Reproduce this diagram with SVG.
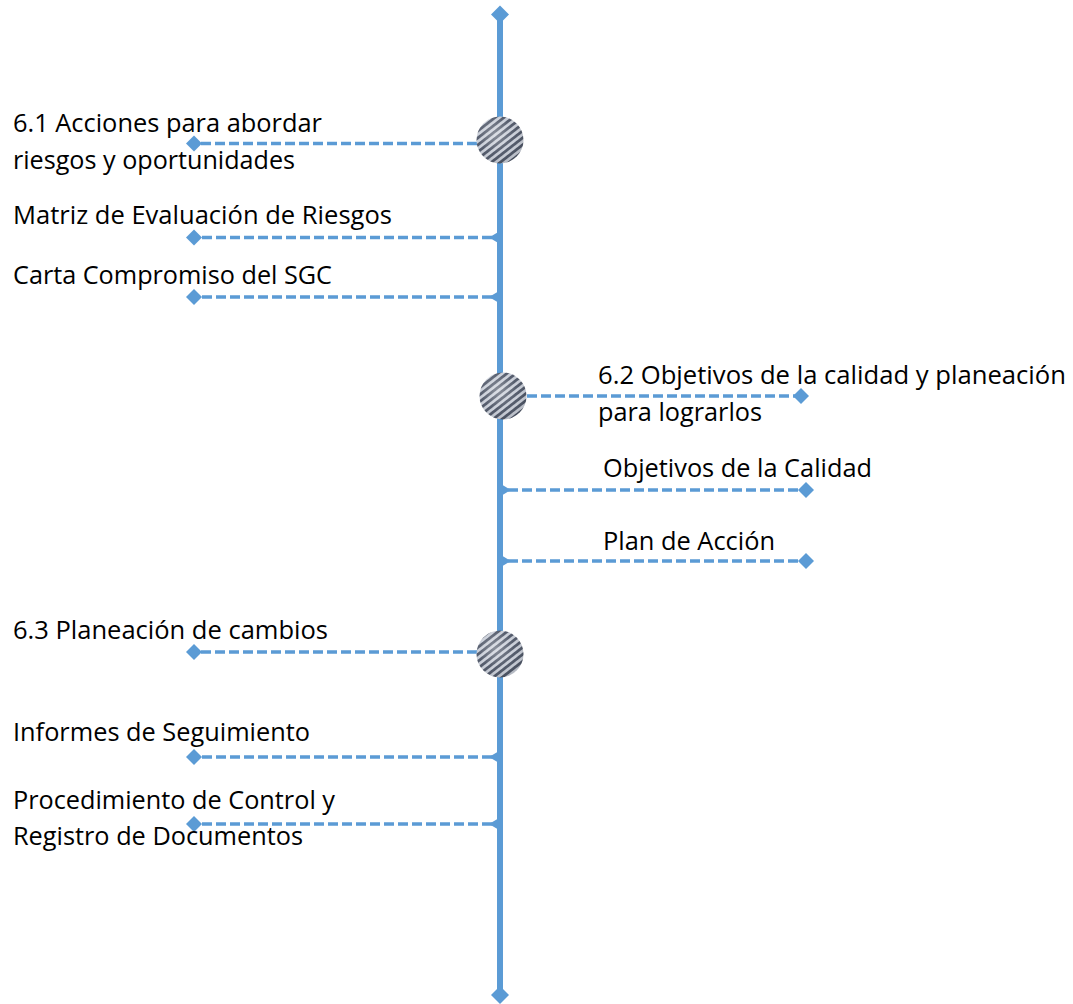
<svg xmlns="http://www.w3.org/2000/svg" width="1073" height="1004" viewBox="0 0 1073 1004">
  <defs>
    <style>
      .lbl { font-family: "Open Sans", "Noto Sans", "Liberation Sans", sans-serif; font-size: 25px; fill: #000000; }
      .spine { stroke: #5B9BD5; stroke-width: 6; fill: none; }
      .dash { stroke: #5B9BD5; stroke-width: 3.4; stroke-dasharray: 10 4; fill: none; }
      .tip { fill: #5B9BD5; }
    </style>
    <pattern id="stripes" patternUnits="userSpaceOnUse" width="5.5" height="5.5" patternTransform="rotate(-38)">
      <rect width="5.5" height="5.5" fill="#c9ced8"/>
      <rect width="5.5" height="2.8" fill="#4d5566"/>
    </pattern>
    <radialGradient id="sheen" cx="0.4" cy="0.38" r="0.65">
      <stop offset="0" stop-color="#ffffff" stop-opacity="0.35"/>
      <stop offset="0.6" stop-color="#ffffff" stop-opacity="0.05"/>
      <stop offset="1" stop-color="#000000" stop-opacity="0.1"/>
    </radialGradient>
  </defs>

  <rect width="1073" height="1004" fill="#ffffff"/>

  <!-- connectors: dashed branches leaving the spine -->
  <g id="connectors">
    <!-- left branches, diamond end on the left -->
    <line class="dash" x1="477" y1="143.5" x2="198" y2="143.5"/>
    <polygon class="tip" points="186,143.5 194,135.5 202,143.5 194,151.5"/>

    <line class="dash" x1="492" y1="237.5" x2="198" y2="237.5"/>
    <polygon class="tip" points="186,237.5 194,229.5 202,237.5 194,245.5"/>
    <polygon class="tip" points="489,237.5 500,231 500,244"/>

    <line class="dash" x1="492" y1="297" x2="198" y2="297"/>
    <polygon class="tip" points="186,297 194,289 202,297 194,305"/>
    <polygon class="tip" points="489,297 500,290.5 500,303.5"/>

    <line class="dash" x1="477" y1="652" x2="198" y2="652"/>
    <polygon class="tip" points="186,652 194,644 202,652 194,660"/>

    <line class="dash" x1="492" y1="757" x2="198" y2="757"/>
    <polygon class="tip" points="186,757 194,749 202,757 194,765"/>
    <polygon class="tip" points="489,757 500,750.5 500,763.5"/>

    <line class="dash" x1="492" y1="824" x2="198" y2="824"/>
    <polygon class="tip" points="186,824 194,816 202,824 194,832"/>
    <polygon class="tip" points="489,824 500,817.5 500,830.5"/>

    <!-- right branches, diamond end on the right -->
    <line class="dash" x1="527" y1="396" x2="797" y2="396"/>
    <polygon class="tip" points="793,396 801,388 809,396 801,404"/>

    <line class="dash" x1="508" y1="490" x2="802" y2="490"/>
    <polygon class="tip" points="798,490 806,482 814,490 806,498"/>
    <polygon class="tip" points="511,490 500,483.5 500,496.5"/>

    <line class="dash" x1="508" y1="561" x2="802" y2="561"/>
    <polygon class="tip" points="798,561 806,553 814,561 806,569"/>
    <polygon class="tip" points="511,561 500,554.5 500,567.5"/>
  </g>

  <!-- main vertical axis -->
  <g id="axis">
    <line class="spine" x1="500" y1="16" x2="500" y2="994"/>
    <polygon class="tip" points="491,14.5 500,5.5 509,14.5 500,23.5"/>
    <polygon class="tip" points="491,995 500,986 509,995 500,1004"/>
  </g>

  <!-- milestone discs -->
  <g id="milestone-6-1">
    <circle cx="500" cy="140" r="23.5" fill="url(#stripes)"/>
    <circle cx="500" cy="140" r="23.5" fill="url(#sheen)"/>
  </g>
  <g id="milestone-6-2">
    <circle cx="503" cy="396" r="23.5" fill="url(#stripes)"/>
    <circle cx="503" cy="396" r="23.5" fill="url(#sheen)"/>
  </g>
  <g id="milestone-6-3">
    <circle cx="500" cy="654" r="23.5" fill="url(#stripes)"/>
    <circle cx="500" cy="654" r="23.5" fill="url(#sheen)"/>
  </g>

  <!-- labels -->
  <g id="node-6-1">
    <text class="lbl" x="13" y="132" textLength="309" lengthAdjust="spacingAndGlyphs">6.1 Acciones para abordar</text>
    <text class="lbl" x="13" y="169" textLength="282" lengthAdjust="spacingAndGlyphs">riesgos y oportunidades</text>
  </g>
  <g id="node-matriz">
    <text class="lbl" x="13" y="224" textLength="379" lengthAdjust="spacingAndGlyphs">Matriz de Evaluación de Riesgos</text>
  </g>
  <g id="node-carta">
    <text class="lbl" x="13" y="284" textLength="319" lengthAdjust="spacingAndGlyphs">Carta Compromiso del SGC</text>
  </g>
  <g id="node-6-2">
    <text class="lbl" x="598" y="384" textLength="468" lengthAdjust="spacingAndGlyphs">6.2 Objetivos de la calidad y planeación</text>
    <text class="lbl" x="598" y="421" textLength="164" lengthAdjust="spacingAndGlyphs">para lograrlos</text>
  </g>
  <g id="node-objetivos">
    <text class="lbl" x="603" y="477" textLength="269" lengthAdjust="spacingAndGlyphs">Objetivos de la Calidad</text>
  </g>
  <g id="node-plan">
    <text class="lbl" x="603" y="550" textLength="172" lengthAdjust="spacingAndGlyphs">Plan de Acción</text>
  </g>
  <g id="node-6-3">
    <text class="lbl" x="13" y="639" textLength="315" lengthAdjust="spacingAndGlyphs">6.3 Planeación de cambios</text>
  </g>
  <g id="node-informes">
    <text class="lbl" x="13" y="741" textLength="297" lengthAdjust="spacingAndGlyphs">Informes de Seguimiento</text>
  </g>
  <g id="node-procedimiento">
    <text class="lbl" x="13" y="809" textLength="322" lengthAdjust="spacingAndGlyphs">Procedimiento de Control y</text>
    <text class="lbl" x="13" y="845" textLength="290" lengthAdjust="spacingAndGlyphs">Registro de Documentos</text>
  </g>
</svg>
